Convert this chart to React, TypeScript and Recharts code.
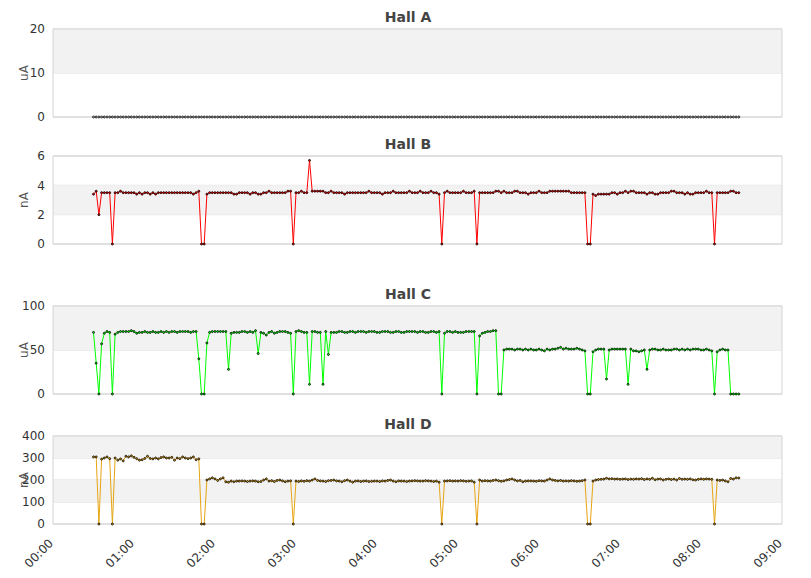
import { CartesianGrid, Line, LineChart, ReferenceArea, XAxis, YAxis } from "recharts";

// samples every 2 minutes, starting 00:30
const START_MIN = 30;
const STEP_MIN = 2;

const hallA = [
  0, 0, 0, 0, 0, 0, 0, 0, 0, 0, 0, 0, 0, 0, 0, 0, 0, 0, 0, 0,
  0, 0, 0, 0, 0, 0, 0, 0, 0, 0, 0, 0, 0, 0, 0, 0, 0, 0, 0, 0,
  0, 0, 0, 0, 0, 0, 0, 0, 0, 0, 0, 0, 0, 0, 0, 0, 0, 0, 0, 0,
  0, 0, 0, 0, 0, 0, 0, 0, 0, 0, 0, 0, 0, 0, 0, 0, 0, 0, 0, 0,
  0, 0, 0, 0, 0, 0, 0, 0, 0, 0, 0, 0, 0, 0, 0, 0, 0, 0, 0, 0,
  0, 0, 0, 0, 0, 0, 0, 0, 0, 0, 0, 0, 0, 0, 0, 0, 0, 0, 0, 0,
  0, 0, 0, 0, 0, 0, 0, 0, 0, 0, 0, 0, 0, 0, 0, 0, 0, 0, 0, 0,
  0, 0, 0, 0, 0, 0, 0, 0, 0, 0, 0, 0, 0, 0, 0, 0, 0, 0, 0, 0,
  0, 0, 0, 0, 0, 0, 0, 0, 0, 0, 0, 0, 0, 0, 0, 0, 0, 0, 0, 0,
  0, 0, 0, 0, 0, 0, 0, 0, 0, 0, 0, 0, 0, 0, 0, 0, 0, 0, 0, 0,
  0, 0, 0, 0, 0, 0, 0, 0, 0, 0, 0, 0, 0, 0, 0, 0, 0, 0, 0, 0,
  0, 0, 0, 0, 0, 0, 0, 0, 0, 0, 0, 0, 0, 0, 0, 0, 0, 0, 0, 0,
];

const hallB = [
  3.4, 3.6, 2.0, 3.5, 3.5, 3.5, 3.5, 0, 3.5, 3.5, 3.6, 3.5, 3.5, 3.5, 3.5, 3.5, 3.4, 3.5, 3.4, 3.5,
  3.5, 3.4, 3.5, 3.4, 3.5, 3.5, 3.5, 3.5, 3.5, 3.5, 3.5, 3.5, 3.5, 3.5, 3.5, 3.5, 3.5, 3.4, 3.5, 3.6,
  0, 0, 3.4, 3.5, 3.5, 3.5, 3.5, 3.5, 3.5, 3.5, 3.5, 3.5, 3.4, 3.4, 3.5, 3.5, 3.5, 3.5, 3.4, 3.5,
  3.5, 3.4, 3.4, 3.5, 3.5, 3.6, 3.5, 3.5, 3.5, 3.5, 3.5, 3.5, 3.6, 3.6, 0, 3.5, 3.5, 3.6, 3.5, 3.5,
  5.7, 3.6, 3.6, 3.6, 3.6, 3.6, 3.5, 3.5, 3.6, 3.5, 3.5, 3.5, 3.5, 3.4, 3.5, 3.5, 3.5, 3.5, 3.5, 3.5,
  3.5, 3.5, 3.6, 3.5, 3.5, 3.5, 3.5, 3.4, 3.5, 3.5, 3.5, 3.6, 3.5, 3.5, 3.5, 3.5, 3.5, 3.6, 3.5, 3.5,
  3.5, 3.6, 3.5, 3.5, 3.5, 3.6, 3.5, 3.5, 3.4, 0, 3.5, 3.6, 3.5, 3.5, 3.5, 3.5, 3.5, 3.6, 3.5, 3.5,
  3.5, 3.6, 0, 3.5, 3.5, 3.5, 3.5, 3.5, 3.5, 3.6, 3.6, 3.5, 3.6, 3.5, 3.5, 3.5, 3.6, 3.6, 3.5, 3.5,
  3.5, 3.4, 3.5, 3.5, 3.5, 3.6, 3.5, 3.5, 3.5, 3.6, 3.6, 3.6, 3.6, 3.6, 3.6, 3.6, 3.6, 3.5, 3.5, 3.5,
  3.5, 3.5, 3.5, 0, 0, 3.4, 3.3, 3.4, 3.4, 3.4, 3.4, 3.4, 3.5, 3.5, 3.4, 3.5, 3.5, 3.6, 3.5, 3.6,
  3.6, 3.5, 3.5, 3.5, 3.5, 3.4, 3.5, 3.5, 3.4, 3.4, 3.5, 3.5, 3.5, 3.5, 3.6, 3.6, 3.5, 3.5, 3.5, 3.4,
  3.5, 3.4, 3.4, 3.5, 3.5, 3.5, 3.5, 3.6, 3.5, 3.5, 0, 3.5, 3.5, 3.5, 3.5, 3.5, 3.6, 3.6, 3.5, 3.5,
];

const hallC = [
  70, 35, 0, 57, 69, 71, 70, 0, 68, 70, 71, 71, 71, 71, 72, 71, 69, 70, 70, 71,
  70, 70, 71, 70, 70, 71, 70, 71, 70, 71, 71, 70, 71, 71, 71, 71, 70, 71, 71, 40,
  0, 0, 58, 70, 71, 71, 71, 71, 71, 71, 28, 69, 70, 70, 70, 71, 71, 70, 71, 70,
  72, 46, 70, 69, 67, 70, 71, 69, 70, 71, 71, 71, 70, 69, 0, 71, 72, 71, 70, 70,
  11, 71, 71, 70, 70, 11, 71, 45, 70, 70, 70, 71, 71, 70, 70, 71, 71, 70, 71, 71,
  71, 70, 71, 71, 71, 70, 70, 71, 71, 71, 70, 70, 71, 71, 70, 70, 71, 71, 71, 71,
  70, 71, 71, 70, 70, 71, 71, 70, 71, 0, 69, 71, 71, 70, 71, 70, 70, 70, 71, 71,
  71, 71, 0, 66, 69, 70, 71, 71, 72, 72, 0, 0, 50, 51, 51, 51, 50, 51, 51, 50,
  51, 50, 51, 50, 50, 51, 50, 49, 51, 50, 51, 51, 52, 53, 51, 52, 51, 51, 51, 52,
  51, 50, 49, 0, 0, 48, 50, 51, 51, 51, 17, 50, 51, 51, 51, 51, 51, 51, 11, 51,
  49, 49, 48, 49, 50, 28, 50, 51, 51, 50, 50, 51, 50, 50, 50, 51, 51, 50, 51, 50,
  51, 50, 51, 51, 51, 50, 50, 51, 50, 49, 0, 48, 50, 51, 50, 50, 0, 0, 0, 0,
];

const hallD = [
  305, 305, 0, 295, 300, 305, 297, 0, 300, 290, 296, 287, 308, 305, 310, 303, 297, 290, 292, 298,
  308, 298, 296, 300, 296, 302, 305, 300, 300, 303, 290, 300, 297, 305, 300, 297, 300, 305, 292, 296,
  0, 0, 200, 205, 210, 205, 198, 205, 210, 192, 190, 195, 192, 195, 195, 196, 195, 193, 195, 196,
  195, 192, 193, 200, 205, 195, 197, 193, 198, 200, 196, 192, 195, 196, 0, 195, 193, 196, 194, 197,
  195, 200, 205, 198, 196, 195, 193, 197, 198, 200, 196, 195, 192, 197, 200, 195, 190, 195, 196, 193,
  195, 196, 193, 194, 195, 195, 193, 196, 195, 198, 200, 195, 192, 196, 195, 195, 193, 195, 196, 197,
  196, 195, 195, 197, 196, 195, 193, 195, 190, 0, 195, 196, 197, 195, 196, 195, 197, 196, 194, 195,
  196, 190, 0, 200, 195, 197, 196, 195, 198, 200, 197, 194, 196, 200, 202, 205, 200, 196, 198, 192,
  195, 196, 196, 195, 194, 197, 196, 195, 200, 205, 200, 198, 196, 198, 195, 196, 195, 197, 196, 194,
  195, 197, 200, 0, 0, 195, 200, 202, 203, 204, 208, 205, 206, 204, 205, 203, 204, 205, 202, 204,
  203, 205, 204, 206, 202, 205, 203, 208, 201, 204, 205, 200, 203, 205, 202, 204, 200, 207, 203, 204,
  203, 205, 201, 200, 203, 205, 203, 205, 204, 203, 0, 200, 198, 200, 196, 192, 207, 204, 210, 209,
];

const ticksA = [0, 10, 20];
const ticksB = [0, 2, 4, 6];
const ticksC = [0, 50, 100];
const ticksD = [0, 100, 200, 300, 400];
const timeTicks = [0, 60, 120, 180, 240, 300, 360, 420, 480, 540];

const FONT = '"DejaVu Sans", Verdana, sans-serif';
const PAD = 10;
const PLOT_H = 88;

const hhmm = (m: number) => `${String(Math.floor(m / 60)).padStart(2, "0")}:${String(m % 60).padStart(2, "0")}`;

function TimeTick({ x, y, payload }: any) {
  return (
    <g transform={`translate(${x + 1},${y + 12})`}>
      <text textAnchor="end" transform="rotate(-45)" fill="#333" fontSize={12} fontFamily={FONT}>
        {hhmm(payload.value)}
      </text>
    </g>
  );
}

function Panel({ title, unit, values, ticks, color, top, showTime = false }: {
  title: string; unit: string; values: number[]; ticks: number[]; color: string; top: number; showTime?: boolean;
}) {
  const rows = values.map((v, i) => ({ t: START_MIN + i * STEP_MIN, v }));
  const max = ticks[ticks.length - 1];
  const axisH = 48;
  return (
    <>
      <div style={{ position: "absolute", left: 0, top: top - 20, width: 816, textAlign: "center", font: `bold 14px ${FONT}`, color: "#444", lineHeight: "17px" }}>
        {title}
      </div>
      <div style={{ position: "absolute", left: 0, top: top - PAD }}>
        <LineChart
          width={811}
          height={PAD + PLOT_H + (showTime ? axisH : PAD)}
          data={rows}
          margin={{ top: PAD, right: 29, bottom: showTime ? 0 : PAD, left: 0 }}
        >
          {ticks.slice(0, -1).map((y, k) =>
            k % 2 === 1 ? <ReferenceArea key={y} y1={y} y2={ticks[k + 1]} fill="#f2f2f2" fillOpacity={1} stroke="none" /> : null
          )}
          <CartesianGrid vertical={false} stroke="#dcdcdc" />
          <ReferenceArea x1={0} x2={540} y1={0} y2={max} fill="none" stroke="#d4d4d4" strokeWidth={1} />
          <XAxis
            type="number"
            dataKey="t"
            domain={[0, 540]}
            ticks={timeTicks}
            interval={0}
            hide={!showTime}
            height={axisH}
            axisLine={false}
            tickLine={false}
            tick={<TimeTick />}
          />
          <YAxis
            width={53}
            domain={[0, max]}
            ticks={ticks}
            interval={0}
            axisLine={false}
            tickLine={false}
            tick={{ fill: "#333", fontSize: 12, fontFamily: FONT }}
            label={{ value: unit, angle: -90, position: "center", dx: -3, fill: "#555", fontSize: 12, fontFamily: FONT }}
          />
          <Line
            type="linear"
            dataKey="v"
            stroke={color}
            strokeWidth={1}
            dot={{ r: 1, fill: color, stroke: "#000", strokeWidth: 0.8 }}
            activeDot={false}
            isAnimationActive={false}
          />
        </LineChart>
      </div>
    </>
  );
}

export default function App() {
  return (
    <div style={{ position: "absolute", left: 0, top: 0, width: 811, height: 578, background: "#fff", fontFamily: FONT }}>
      <Panel title="Hall A" unit="uA" values={hallA} ticks={ticksA} color="#d4d4d4" top={29} />
      <Panel title="Hall B" unit="nA" values={hallB} ticks={ticksB} color="#ff0000" top={156} />
      <Panel title="Hall C" unit="uA" values={hallC} ticks={ticksC} color="#00ff00" top={306} />
      <Panel title="Hall D" unit="nA" values={hallD} ticks={ticksD} color="#e6a412" top={436} showTime />
    </div>
  );
}
